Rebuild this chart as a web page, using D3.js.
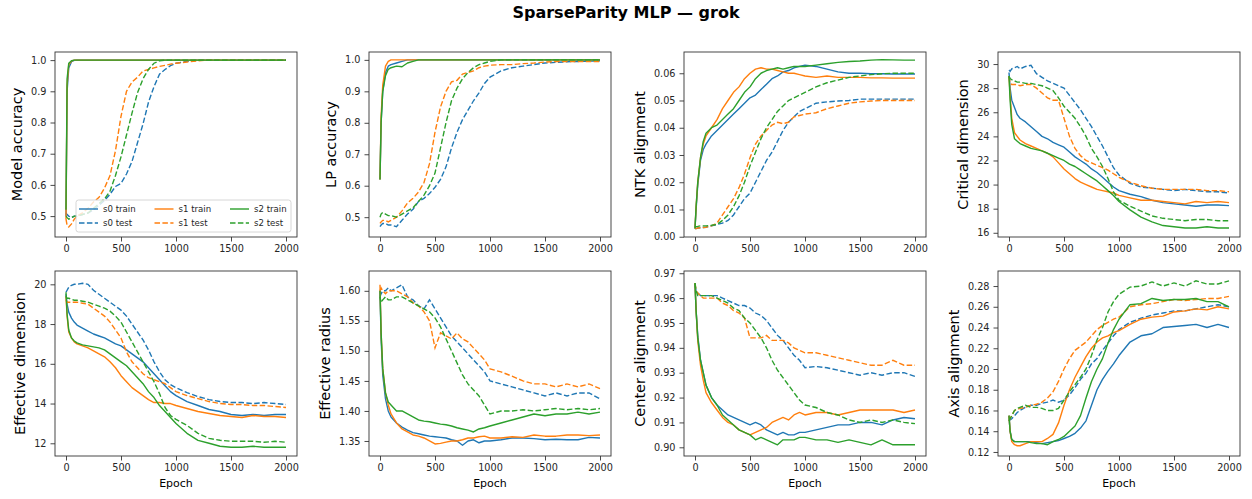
<!DOCTYPE html>
<html>
<head>
<meta charset="utf-8">
<script src="https://cdn.jsdelivr.net/npm/d3@7"></script>
<style>
  body { margin: 0; background: #fff; }
  svg text { font-family: "DejaVu Sans", sans-serif; }
</style>
</head>
<body>
<svg id="svg" width="1252" height="499"></svg>
<script>
// epochs shared by every series
const epochs = [0, 10, 25, 50, 75, 100, 150, 200,
  250, 300, 350, 400, 450, 500, 550, 600, 650, 700, 750, 800, 850, 900, 950, 1000,
  1100, 1200, 1300, 1400, 1500, 1600, 1700, 1800, 1900, 2000];

const seeds = ['s0', 's1', 's2'];
const xTicks = [0, 500, 1000, 1500, 2000];

// Model accuracy
const modelAccTrain = [
  [0.50, 0.90, 0.975, 0.995, 0.999, 1.0, 1.0, 1.0, 1, 1, 1, 1, 1, 1, 1, 1, 1, 1, 1, 1, 1, 1, 1, 1, 1, 1, 1, 1, 1, 1, 1, 1, 1, 1],
  [0.49, 0.92, 0.985, 0.997, 1.0, 1.0, 1.0, 1.0, 1, 1, 1, 1, 1, 1, 1, 1, 1, 1, 1, 1, 1, 1, 1, 1, 1, 1, 1, 1, 1, 1, 1, 1, 1, 1],
  [0.52, 0.94, 0.99, 0.998, 1.0, 1.0, 1.0, 1.0, 1, 1, 1, 1, 1, 1, 1, 1, 1, 1, 1, 1, 1, 1, 1, 1, 1, 1, 1, 1, 1, 1, 1, 1, 1, 1]
];
const modelAccTest = [
  [0.51, 0.505, 0.50, 0.495, 0.50, 0.50, 0.505, 0.51,
   0.52, 0.535, 0.55, 0.57, 0.595, 0.605, 0.635, 0.675, 0.735, 0.795, 0.865, 0.915, 0.955, 0.97, 0.982, 0.99,
   0.996, 1.0, 1.0, 1.0, 1.0, 1.0, 1.0, 1.0, 1.0, 1.0],
  [0.49, 0.47, 0.465, 0.475, 0.49, 0.50, 0.51, 0.525,
   0.545, 0.56, 0.59, 0.63, 0.71, 0.82, 0.90, 0.93, 0.945, 0.965, 0.97, 0.975, 0.98, 0.983, 0.987, 0.99,
   0.994, 0.998, 1.0, 1.0, 1.0, 1.0, 1.0, 1.0, 1.0, 1.0],
  [0.50, 0.495, 0.49, 0.495, 0.50, 0.50, 0.505, 0.51,
   0.525, 0.54, 0.555, 0.58, 0.63, 0.69, 0.76, 0.83, 0.895, 0.94, 0.97, 0.99, 0.998, 1.0, 1.0, 1.0,
   1.0, 1.0, 1.0, 1.0, 1.0, 1.0, 1.0, 1.0, 1.0, 1.0]
];

// LP accuracy
const lpAccTrain = [
  [0.62, 0.80, 0.90, 0.96, 0.98, 0.985, 0.99, 0.995, 1, 1, 1, 1, 1, 1, 1, 1, 1, 1, 1, 1, 1, 1, 1, 1, 1, 1, 1, 1, 1, 1, 1, 1, 1, 1],
  [0.62, 0.82, 0.92, 0.98, 0.995, 1.0, 1.0, 1.0, 1, 1, 1, 1, 1, 1, 1, 1, 1, 1, 1, 1, 1, 1, 1, 1, 1, 1, 1, 1, 1, 1, 1, 1, 1, 1],
  [0.62, 0.80, 0.90, 0.95, 0.97, 0.975, 0.98, 0.978, 0.99, 0.995, 1, 1, 1, 1, 1, 1, 1, 1, 1, 1, 1, 1, 1, 1, 1, 1, 1, 1, 1, 1, 1, 1, 1, 1]
];
const lpAccTest = [
  [0.47, 0.475, 0.48, 0.48, 0.475, 0.475, 0.47, 0.49,
   0.51, 0.525, 0.55, 0.56, 0.575, 0.595, 0.62, 0.66, 0.72, 0.77, 0.81, 0.84, 0.87, 0.895, 0.925, 0.945,
   0.965, 0.975, 0.98, 0.985, 0.99, 0.992, 0.994, 0.995, 0.996, 0.997],
  [0.48, 0.485, 0.49, 0.49, 0.485, 0.49, 0.50, 0.52,
   0.545, 0.56, 0.58, 0.61, 0.67, 0.77, 0.85, 0.90, 0.93, 0.935, 0.955, 0.96, 0.965, 0.975, 0.98, 0.983,
   0.985, 0.985, 0.988, 0.99, 0.993, 0.995, 0.995, 0.995, 0.995, 0.995],
  [0.50, 0.51, 0.515, 0.51, 0.505, 0.505, 0.50, 0.51,
   0.52, 0.53, 0.55, 0.57, 0.60, 0.64, 0.72, 0.80, 0.87, 0.91, 0.94, 0.96, 0.975, 0.985, 0.99, 0.995,
   1.0, 1.0, 1.0, 1.0, 1.0, 1.0, 1.0, 1.0, 1.0, 1.0]
];

// NTK alignment
const ntkTrain = [
  [0.003, 0.010, 0.019, 0.028, 0.032, 0.034, 0.037, 0.039,
   0.041, 0.043, 0.045, 0.047, 0.049, 0.051, 0.052, 0.054, 0.056, 0.058, 0.059, 0.0605, 0.061, 0.062, 0.0625, 0.063,
   0.0625, 0.0615, 0.0605, 0.060, 0.060, 0.0598, 0.0598, 0.0597, 0.0597, 0.0597],
  [0.003, 0.011, 0.020, 0.029, 0.034, 0.037, 0.040, 0.043,
   0.047, 0.050, 0.053, 0.055, 0.058, 0.060, 0.0615, 0.062, 0.0615, 0.0615, 0.061, 0.0605, 0.060, 0.060, 0.0595, 0.059,
   0.0585, 0.059, 0.0585, 0.0585, 0.0585, 0.0583, 0.0583, 0.0582, 0.0582, 0.0582],
  [0.003, 0.011, 0.020, 0.029, 0.035, 0.038, 0.040, 0.041,
   0.043, 0.045, 0.047, 0.050, 0.053, 0.055, 0.058, 0.060, 0.061, 0.0615, 0.062, 0.0615, 0.062, 0.0625, 0.0625, 0.0625,
   0.063, 0.0635, 0.064, 0.0643, 0.0645, 0.0648, 0.065, 0.0649, 0.0648, 0.0648]
];
const ntkTest = [
  [0.003, 0.003, 0.0032, 0.0033, 0.0034, 0.0035, 0.004, 0.0045,
   0.005, 0.006, 0.008, 0.011, 0.014, 0.016, 0.020, 0.024, 0.028, 0.031, 0.035, 0.039, 0.042, 0.044, 0.046, 0.047,
   0.049, 0.0495, 0.0498, 0.050, 0.0505, 0.0505, 0.0505, 0.0505, 0.0505, 0.0505],
  [0.003, 0.003, 0.0032, 0.0033, 0.0034, 0.0035, 0.004, 0.005,
   0.008, 0.011, 0.014, 0.018, 0.023, 0.029, 0.034, 0.037, 0.039, 0.041, 0.042, 0.0415, 0.042, 0.044, 0.0445, 0.045,
   0.0455, 0.047, 0.048, 0.049, 0.0495, 0.0498, 0.050, 0.050, 0.050, 0.050],
  [0.0035, 0.0037, 0.0038, 0.004, 0.004, 0.004, 0.0042, 0.0045,
   0.006, 0.008, 0.011, 0.015, 0.020, 0.026, 0.031, 0.036, 0.040, 0.043, 0.046, 0.048, 0.050, 0.051, 0.052, 0.053,
   0.055, 0.0565, 0.0575, 0.0585, 0.059, 0.0595, 0.0598, 0.060, 0.060, 0.060]
];

// Critical dimension
const critDimTrain = [
  [29.3, 28.0, 27.0, 26.4, 25.8, 25.5, 25.2, 24.8,
   24.4, 24.0, 23.8, 23.5, 23.3, 23.1, 22.7, 22.3, 22.0, 21.7, 21.3, 21.0, 20.6, 20.2, 19.8, 19.5,
   19.2, 19.0, 18.7, 18.5, 18.4, 18.3, 18.2, 18.3, 18.3, 18.25],
  [29.0, 27.5, 25.5, 24.3, 24.0, 23.7, 23.4, 23.2,
   23.0, 22.8, 22.6, 22.3, 21.8, 21.3, 20.9, 20.5, 20.2, 20.0, 19.8, 19.6, 19.5, 19.4, 19.3, 19.1,
   18.9, 18.7, 18.7, 18.6, 18.5, 18.4, 18.6, 18.5, 18.6, 18.5],
  [29.0, 27.0, 25.0, 23.8, 23.6, 23.4, 23.2, 23.0,
   22.9, 22.8, 22.6, 22.4, 22.2, 22.0, 21.7, 21.5, 21.2, 20.9, 20.6, 20.3, 19.9, 19.5, 19.1, 18.6,
   17.9, 17.3, 16.9, 16.6, 16.5, 16.4, 16.4, 16.5, 16.4, 16.4]
];
const critDimTest = [
  [29.5, 29.4, 29.6, 29.7, 29.8, 29.6, 29.8, 29.9,
   29.2, 28.9, 28.6, 28.4, 28.2, 28.0, 27.4, 26.8, 26.2, 25.5, 24.8, 24.0, 23.2, 22.3, 21.4, 20.8,
   20.1, 19.8, 19.7, 19.6, 19.5, 19.6, 19.5, 19.4, 19.4, 19.3],
  [29.0, 28.5, 28.3, 28.3, 28.3, 28.2, 28.3, 28.3,
   28.0, 27.6, 27.2, 27.0, 27.0, 25.5, 24.0, 23.0, 22.4, 22.0, 21.8, 21.6, 21.4, 21.2, 20.9, 20.6,
   20.2, 19.9, 19.7, 19.6, 19.6, 19.6, 19.6, 19.5, 19.5, 19.4],
  [29.0, 28.8, 28.7, 28.6, 28.5, 28.5, 28.4, 28.4,
   28.3, 28.2, 28.0, 27.8, 27.2, 26.5, 26.0, 25.5, 24.8, 24.0, 23.0, 22.3, 21.5, 20.5, 19.4, 18.7,
   18.2, 17.8, 17.4, 17.2, 17.1, 17.0, 17.1, 17.1, 17.0, 17.0]
];

// Effective dimension
const effDimTrain = [
  [19.5, 19.0, 18.6, 18.3, 18.1, 17.95, 17.8, 17.65,
   17.5, 17.4, 17.3, 17.15, 17.0, 16.9, 16.7, 16.5, 16.3, 16.1, 15.8, 15.5, 15.2, 14.9, 14.6, 14.4,
   14.1, 13.9, 13.7, 13.6, 13.45, 13.4, 13.45, 13.4, 13.45, 13.45],
  [19.4, 18.4, 17.6, 17.3, 17.1, 17.0, 16.9, 16.8,
   16.65, 16.5, 16.35, 16.1, 15.8, 15.4, 15.1, 14.8, 14.6, 14.4, 14.2, 14.05, 14.05, 14.0, 14.0, 13.9,
   13.75, 13.6, 13.5, 13.4, 13.35, 13.3, 13.4, 13.35, 13.35, 13.3],
  [19.6, 18.5, 17.7, 17.3, 17.15, 17.05, 16.95, 16.9,
   16.85, 16.8, 16.7, 16.5, 16.3, 16.1, 15.9, 15.6, 15.3, 15.0, 14.6, 14.3, 13.9, 13.6, 13.3, 13.0,
   12.5, 12.15, 12.0, 11.85, 11.8, 11.8, 11.85, 11.8, 11.8, 11.8]
];
const effDimTest = [
  [19.6, 19.7, 19.85, 19.95, 20.0, 20.0, 20.05, 20.0,
   19.7, 19.5, 19.3, 19.1, 18.9, 18.7, 18.4, 18.0, 17.6, 17.2, 16.7, 16.1, 15.6, 15.2, 14.95, 14.8,
   14.55, 14.35, 14.2, 14.1, 14.05, 14.05, 14.0, 14.05, 14.0, 13.95],
  [19.2, 19.1, 19.1, 19.1, 19.1, 19.1, 19.05, 19.0,
   18.8, 18.6, 18.4, 18.1, 17.7, 17.3, 16.6, 16.1, 15.8, 15.5, 15.3, 15.2, 15.1, 15.0, 14.8, 14.6,
   14.4, 14.25, 14.1, 14.0, 13.95, 13.95, 13.9, 13.9, 13.85, 13.8],
  [19.4, 19.3, 19.3, 19.25, 19.2, 19.2, 19.15, 19.1,
   19.0, 18.9, 18.8, 18.65, 18.4, 18.1, 17.6, 17.1, 16.6, 16.1, 15.6, 15.1, 14.5, 13.8, 13.4, 13.2,
   12.9, 12.5, 12.25, 12.15, 12.1, 12.1, 12.1, 12.05, 12.1, 12.05]
];

// Effective radius
const effRadTrain = [
  [1.60, 1.52, 1.46, 1.42, 1.40, 1.39, 1.38, 1.373,
   1.368, 1.364, 1.362, 1.36, 1.358, 1.357, 1.356, 1.355, 1.352, 1.35, 1.343, 1.35, 1.352, 1.347, 1.35, 1.35,
   1.352, 1.355, 1.355, 1.354, 1.352, 1.353, 1.352, 1.352, 1.356, 1.355],
  [1.61, 1.53, 1.47, 1.43, 1.41, 1.395, 1.38, 1.37,
   1.365, 1.36, 1.358, 1.355, 1.35, 1.345, 1.346, 1.348, 1.35, 1.35, 1.352, 1.355, 1.355, 1.357, 1.358, 1.355,
   1.355, 1.357, 1.356, 1.36, 1.358, 1.358, 1.36, 1.36, 1.359, 1.36],
  [1.60, 1.53, 1.47, 1.43, 1.415, 1.41, 1.40, 1.40,
   1.395, 1.39, 1.385, 1.383, 1.382, 1.38, 1.378, 1.377, 1.375, 1.372, 1.37, 1.368, 1.365, 1.37, 1.372, 1.375,
   1.38, 1.385, 1.39, 1.395, 1.392, 1.395, 1.395, 1.398, 1.395, 1.398]
];
const effRadTest = [
  [1.59, 1.595, 1.60, 1.60, 1.605, 1.60, 1.605, 1.61,
   1.59, 1.585, 1.575, 1.57, 1.585, 1.57, 1.555, 1.54, 1.525, 1.515, 1.505, 1.495, 1.485, 1.475, 1.465, 1.45,
   1.445, 1.44, 1.435, 1.43, 1.425, 1.43, 1.425, 1.43, 1.43, 1.42],
  [1.60, 1.605, 1.60, 1.595, 1.60, 1.60, 1.60, 1.595,
   1.59, 1.58, 1.575, 1.565, 1.55, 1.505, 1.53, 1.525, 1.52, 1.53, 1.52, 1.515, 1.505, 1.495, 1.485, 1.47,
   1.465, 1.458, 1.45, 1.445, 1.445, 1.44, 1.445, 1.44, 1.445, 1.437],
  [1.59, 1.58, 1.585, 1.59, 1.585, 1.585, 1.59, 1.59,
   1.585, 1.58, 1.575, 1.57, 1.565, 1.555, 1.54, 1.52, 1.50, 1.48, 1.46, 1.445, 1.435, 1.425, 1.41, 1.395,
   1.40, 1.40, 1.402, 1.40, 1.402, 1.404, 1.402, 1.404, 1.402, 1.404]
];

// Center alignment
const centerAlignTrain = [
  [0.966, 0.955, 0.945, 0.935, 0.93, 0.925, 0.92, 0.917,
   0.915, 0.913, 0.912, 0.911, 0.91, 0.909, 0.91, 0.909, 0.907, 0.906, 0.905, 0.906, 0.905, 0.905, 0.906, 0.906,
   0.907, 0.908, 0.909, 0.909, 0.910, 0.910, 0.909, 0.911, 0.912, 0.9115],
  [0.966, 0.955, 0.943, 0.933, 0.927, 0.922, 0.918, 0.915,
   0.912, 0.91, 0.909, 0.907, 0.906, 0.905, 0.906, 0.907, 0.908, 0.910, 0.911, 0.912, 0.911, 0.913, 0.914, 0.913,
   0.914, 0.914, 0.913, 0.914, 0.915, 0.915, 0.915, 0.915, 0.914, 0.915],
  [0.966, 0.955, 0.944, 0.935, 0.93, 0.925, 0.92, 0.917,
   0.913, 0.911, 0.909, 0.907, 0.906, 0.905, 0.903, 0.904, 0.903, 0.902, 0.901, 0.903, 0.903, 0.903, 0.904, 0.904,
   0.903, 0.903, 0.902, 0.903, 0.902, 0.901, 0.903, 0.901, 0.901, 0.901]
];
const centerAlignTest = [
  [0.965, 0.963, 0.962, 0.961, 0.961, 0.961, 0.961, 0.961,
   0.96, 0.959, 0.958, 0.957, 0.957, 0.956, 0.954, 0.953, 0.951, 0.948, 0.945, 0.943, 0.940, 0.937, 0.935, 0.932,
   0.9325, 0.932, 0.931, 0.930, 0.929, 0.930, 0.929, 0.930, 0.930, 0.9285],
  [0.966, 0.963, 0.962, 0.961, 0.96, 0.96, 0.96, 0.96,
   0.958, 0.957, 0.955, 0.954, 0.952, 0.944, 0.944, 0.944, 0.945, 0.943, 0.943, 0.943, 0.942, 0.940, 0.939, 0.938,
   0.938, 0.937, 0.936, 0.935, 0.934, 0.933, 0.933, 0.935, 0.933, 0.933],
  [0.966, 0.963, 0.961, 0.961, 0.961, 0.961, 0.961, 0.960,
   0.959, 0.958, 0.956, 0.955, 0.952, 0.950, 0.947, 0.944, 0.940, 0.935, 0.931, 0.928, 0.925, 0.922, 0.919, 0.917,
   0.916, 0.914, 0.913, 0.911, 0.910, 0.911, 0.910, 0.911, 0.910, 0.9095]
];

// Axis alignment
const axisAlignTrain = [
  [0.155, 0.14, 0.132, 0.13, 0.13, 0.13, 0.13, 0.13,
   0.129, 0.128, 0.129, 0.130, 0.131, 0.133, 0.135, 0.138, 0.143, 0.15, 0.165, 0.18, 0.19, 0.198, 0.205, 0.213,
   0.226, 0.232, 0.234, 0.24, 0.241, 0.242, 0.243, 0.24, 0.243, 0.24],
  [0.155, 0.14, 0.13, 0.127, 0.126, 0.126, 0.128, 0.13,
   0.13, 0.13, 0.133, 0.137, 0.148, 0.165, 0.18, 0.192, 0.202, 0.212, 0.22, 0.226, 0.23, 0.232, 0.235, 0.237,
   0.243, 0.248, 0.25, 0.251, 0.255, 0.256, 0.258, 0.257, 0.26, 0.258],
  [0.155, 0.14, 0.132, 0.13, 0.13, 0.13, 0.13, 0.129,
   0.128, 0.128, 0.127, 0.13, 0.132, 0.135, 0.14, 0.145, 0.155, 0.172, 0.188, 0.2, 0.21, 0.225, 0.238, 0.248,
   0.262, 0.263, 0.268, 0.266, 0.267, 0.267, 0.268, 0.265, 0.265, 0.26]
];
const axisAlignTest = [
  [0.15, 0.151, 0.152, 0.155, 0.158, 0.16, 0.163, 0.165,
   0.165, 0.167, 0.168, 0.17, 0.168, 0.17, 0.175, 0.182, 0.19, 0.196, 0.205, 0.21, 0.218, 0.225, 0.232, 0.238,
   0.245, 0.249, 0.252, 0.254, 0.256, 0.256, 0.258, 0.26, 0.262, 0.26],
  [0.15, 0.152, 0.155, 0.16, 0.161, 0.162, 0.163, 0.165,
   0.166, 0.168, 0.172, 0.178, 0.188, 0.2, 0.21, 0.218, 0.222, 0.226, 0.232, 0.238, 0.242, 0.245, 0.248, 0.25,
   0.26, 0.262, 0.263, 0.265, 0.267, 0.266, 0.267, 0.268, 0.268, 0.27],
  [0.15, 0.152, 0.155, 0.16, 0.162, 0.163, 0.165, 0.163,
   0.163, 0.162, 0.16, 0.16, 0.162, 0.17, 0.178, 0.185, 0.192, 0.2, 0.213, 0.228, 0.24, 0.255, 0.265, 0.272,
   0.279, 0.28, 0.284, 0.28, 0.283, 0.28, 0.285, 0.282, 0.282, 0.285]
];

// y tick values per panel
const accTicks = [0.5, 0.6, 0.7, 0.8, 0.9, 1.0];
const ntkTicks = [0.00, 0.01, 0.02, 0.03, 0.04, 0.05, 0.06];
const critTicks = [16, 18, 20, 22, 24, 26, 28, 30];
const effDimTicks = [12, 14, 16, 18, 20];
const effRadTicks = [1.35, 1.40, 1.45, 1.50, 1.55, 1.60];
const centerTicks = [0.90, 0.91, 0.92, 0.93, 0.94, 0.95, 0.96, 0.97];
const axisTicks = [0.12, 0.14, 0.16, 0.18, 0.20, 0.22, 0.24, 0.26, 0.28];

let panels = [
  { label: 'Model accuracy', train: modelAccTrain, test: modelAccTest, yDomain: [0.433, 1.026], ticks: accTicks, fmt: '.1f', legend: true },
  { label: 'LP accuracy', train: lpAccTrain, test: lpAccTest, yDomain: [0.437, 1.025], ticks: accTicks, fmt: '.1f' },
  { label: 'NTK alignment', train: ntkTrain, test: ntkTest, yDomain: [-0.0001, 0.0678], ticks: ntkTicks, fmt: '.2f' },
  { label: 'Critical dimension', train: critDimTrain, test: critDimTest, yDomain: [15.65, 31.0], ticks: critTicks, fmt: 'd' },
  { label: 'Effective dimension', train: effDimTrain, test: effDimTest, yDomain: [11.36, 20.67], ticks: effDimTicks, fmt: 'd' },
  { label: 'Effective radius', train: effRadTrain, test: effRadTest, yDomain: [1.325, 1.633], ticks: effRadTicks, fmt: '.2f' },
  { label: 'Center alignment', train: centerAlignTrain, test: centerAlignTest, yDomain: [0.8965, 0.9709], ticks: centerTicks, fmt: '.2f' },
  { label: 'Axis alignment', train: axisAlignTrain, test: axisAlignTest, yDomain: [0.1161, 0.2945], ticks: axisTicks, fmt: '.2f' }
];

let colors = ['#1f77b4', '#ff7f0e', '#2ca02c'];
let dash = '5.5,2.4';

let svg = d3.select('#svg');

// layout (pixels)
let colLefts = [55, 369, 684, 998];
let rowTops = [52, 271];
let axW = 242, axH = 185;
let tickLen = 4.5, tickPad = 4;
let tickFont = 9.7;

svg.append('text')
  .attr('x', 626)
  .attr('y', 18)
  .attr('text-anchor', 'middle')
  .attr('font-size', '16px')
  .attr('font-weight', 'bold')
  .attr('fill', '#000')
  .text('SparseParity MLP \u2014 grok');

panels.forEach((p, i) => {
  let row = Math.floor(i / 4), col = i % 4;
  let g = svg.append('g')
    .attr('transform', 'translate(' + [colLefts[col], rowTops[row]] + ')');

  let x = d3.scaleLinear().domain([-100, 2100]).range([0, axW]);
  let y = d3.scaleLinear().domain(p.yDomain).range([axH, 0]);

  g.append('clipPath').attr('id', 'clip' + i)
    .append('rect').attr('width', axW).attr('height', axH);

  // x axis
  let xAxis = g.append('g')
    .attr('transform', 'translate(0,' + axH + ')')
    .call(d3.axisBottom(x).tickValues(xTicks).tickFormat(d3.format('d')).tickSize(tickLen).tickPadding(tickPad));
  // y axis
  let yAxis = g.append('g')
    .call(d3.axisLeft(y).tickValues(p.ticks).tickFormat(d3.format(p.fmt)).tickSize(tickLen).tickPadding(tickPad));

  [xAxis, yAxis].forEach((ax) => {
    ax.select('.domain').remove();
    ax.selectAll('line').attr('stroke', '#333').attr('stroke-width', 0.9);
    ax.selectAll('text').attr('font-size', tickFont + 'px').attr('fill', '#262626')
      .attr('font-family', '"DejaVu Sans", sans-serif');
  });

  // lines: train solid, test dashed, per seed
  let line = d3.line()
    .x((d, k) => x(epochs[k]))
    .y((d) => y(d));

  let plot = g.append('g').attr('clip-path', 'url(#clip' + i + ')');
  seeds.forEach((s, k) => {
    plot.append('path')
      .attr('d', line(p.train[k]))
      .attr('fill', 'none')
      .attr('stroke', colors[k])
      .attr('stroke-width', 1.4)
      .attr('stroke-linejoin', 'round');
    plot.append('path')
      .attr('d', line(p.test[k]))
      .attr('fill', 'none')
      .attr('stroke', colors[k])
      .attr('stroke-width', 1.4)
      .attr('stroke-dasharray', dash);
  });

  // frame
  g.append('rect')
    .attr('width', axW).attr('height', axH)
    .attr('fill', 'none').attr('stroke', '#333').attr('stroke-width', 0.9);

  // y label, placed left of the widest tick label
  let maxW = 0;
  yAxis.selectAll('text').each(function () {
    maxW = Math.max(maxW, this.getComputedTextLength());
  });
  let lx = -(tickLen + tickPad + maxW + 9);
  g.append('text')
    .attr('transform', 'translate(' + [lx, axH / 2] + ') rotate(-90)')
    .attr('text-anchor', 'middle')
    .attr('font-size', '14.5px')
    .attr('fill', '#000')
    .text(p.label);

  if (row === 1) {
    g.append('text')
      .attr('x', x(1000))
      .attr('y', axH + 31)
      .attr('text-anchor', 'middle')
      .attr('font-size', '11px')
      .attr('fill', '#000')
      .text('Epoch');
  }

  if (p.legend) {
    let lw = 215, lh = 32;
    let lg = g.append('g').attr('transform', 'translate(' + [axW - 6 - lw, axH - 5 - lh] + ')');
    lg.append('rect')
      .attr('width', lw).attr('height', lh).attr('rx', 2.5)
      .attr('fill', '#fff').attr('fill-opacity', 0.8)
      .attr('stroke', '#ccc').attr('stroke-width', 0.8);
    seeds.forEach((s, k) => {
      ['train', 'test'].forEach((kind, r) => {
        let ex = 3 + k * 75.5, ey = 9 + r * 14;
        lg.append('line')
          .attr('x1', ex).attr('x2', ex + 19).attr('y1', ey).attr('y2', ey)
          .attr('stroke', colors[k]).attr('stroke-width', 1.4)
          .attr('stroke-dasharray', kind === 'test' ? dash : null);
        lg.append('text')
          .attr('x', ex + 24).attr('y', ey + 3)
          .attr('font-size', '8.6px')
          .attr('fill', '#262626')
          .text(s + ' ' + kind);
      });
    });
  }
});
</script>
</body>
</html>
